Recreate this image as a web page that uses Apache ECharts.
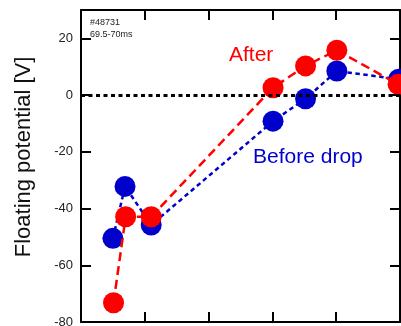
<!DOCTYPE html>
<html>
<head>
<meta charset="utf-8">
<script src="https://cdn.jsdelivr.net/npm/echarts@6/dist/echarts.min.js"></script>
<style>
html,body{margin:0;padding:0;background:#fff;}
#chart{width:401px;height:326px;}
</style>
</head>
<body>
<div id="chart"></div>
<script>
// Data
var afterX  = [0.51, 0.70, 1.10, 3.01, 3.52, 4.01, 4.97];
var afterY  = [-73.2, -42.9, -42.9, 2.6, 10.3, 15.8, 3.8];
var beforeX = [0.50, 0.69, 1.10, 3.01, 3.52, 4.01, 4.98];
var beforeY = [-50.5, -32.2, -45.8, -9.2, -1.3, 8.5, 5.6];
var yTicks  = [-80, -60, -40, -20, 0, 20];

function pairs(xs, ys){ return xs.map(function(x,i){ return [x, ys[i]]; }); }

var FONT = 'Liberation Sans, Arial, sans-serif';
var RED = '#ff0000', BLUE = '#0000cc';

var chart = echarts.init(document.getElementById('chart'), null, {renderer:'canvas'});

function xAxisCfg(pos){
  return {
    type:'value', position:pos, min:0, max:5, interval:1,
    axisLine:{show:true, onZero:false, lineStyle:{color:'#000', width:2}},
    axisTick:{show:true, inside:true, length:10, lineStyle:{color:'#000', width:2}},
    axisLabel:{show:false}, splitLine:{show:false}
  };
}
function yAxisCfg(pos, labels){
  return {
    type:'value', position:pos, min:-80, max:30, interval:20,
    axisLine:{show:true, onZero:false, lineStyle:{color:'#000', width:2}},
    axisTick:{show:true, inside:true, length:10, lineStyle:{color:'#000', width:2}},
    axisLabel:{show:labels, showMaxLabel:false, fontSize:13, color:'#222', fontFamily:FONT, margin:8,
      formatter:function(v){ return yTicks.indexOf(v) >= 0 ? String(v) : ''; }},
    splitLine:{show:false}
  };
}

chart.setOption({
  animation:false,
  backgroundColor:'#fff',
  grid:{left:81, right:1, top:10, bottom:4, outerBoundsMode:'none'},
  xAxis:[xAxisCfg('bottom'), xAxisCfg('top')],
  yAxis:[yAxisCfg('left', true), yAxisCfg('right', false)],
  series:[
    {
      type:'line', name:'Before drop', data:pairs(beforeX, beforeY), smooth:false,
      symbol:'circle', symbolSize:21, clip:false,
      itemStyle:{color:BLUE},
      lineStyle:{color:BLUE, width:2.5, type:[4.5,3.5]},
      markLine:{
        silent:true, symbol:['none','none'], label:{show:false},
        lineStyle:{color:'#000', width:3, type:[4,3.5]},
        data:[{yAxis:0}]
      },
      z:2
    },
    {
      type:'line', name:'After', data:pairs(afterX, afterY), smooth:false,
      symbol:'circle', symbolSize:21, clip:false,
      itemStyle:{color:RED},
      lineStyle:{color:RED, width:2.5, type:[9,5]},
      z:3
    }
  ],
  graphic:[
    {type:'text', x:23.5, y:157, rotation:Math.PI/2,
     style:{text:'Floating potential [V]', fontSize:22, fontFamily:FONT, fill:'#111', align:'center', verticalAlign:'middle'}},
    {type:'text', x:90, y:22.8,
     style:{text:'#48731', fontSize:9, fontFamily:FONT, fill:'#222', align:'left', verticalAlign:'middle'}},
    {type:'text', x:90, y:35,
     style:{text:'69.5-70ms', fontSize:9, fontFamily:FONT, fill:'#222', align:'left', verticalAlign:'middle'}},
    {type:'text', x:229, y:55.5,
     style:{text:'After', fontSize:21, fontFamily:FONT, fill:RED, align:'left', verticalAlign:'middle'}},
    {type:'text', x:253, y:157.6,
     style:{text:'Before drop', fontSize:21, fontFamily:FONT, fill:BLUE, align:'left', verticalAlign:'middle'}}
  ]
});
</script>
</body>
</html>
